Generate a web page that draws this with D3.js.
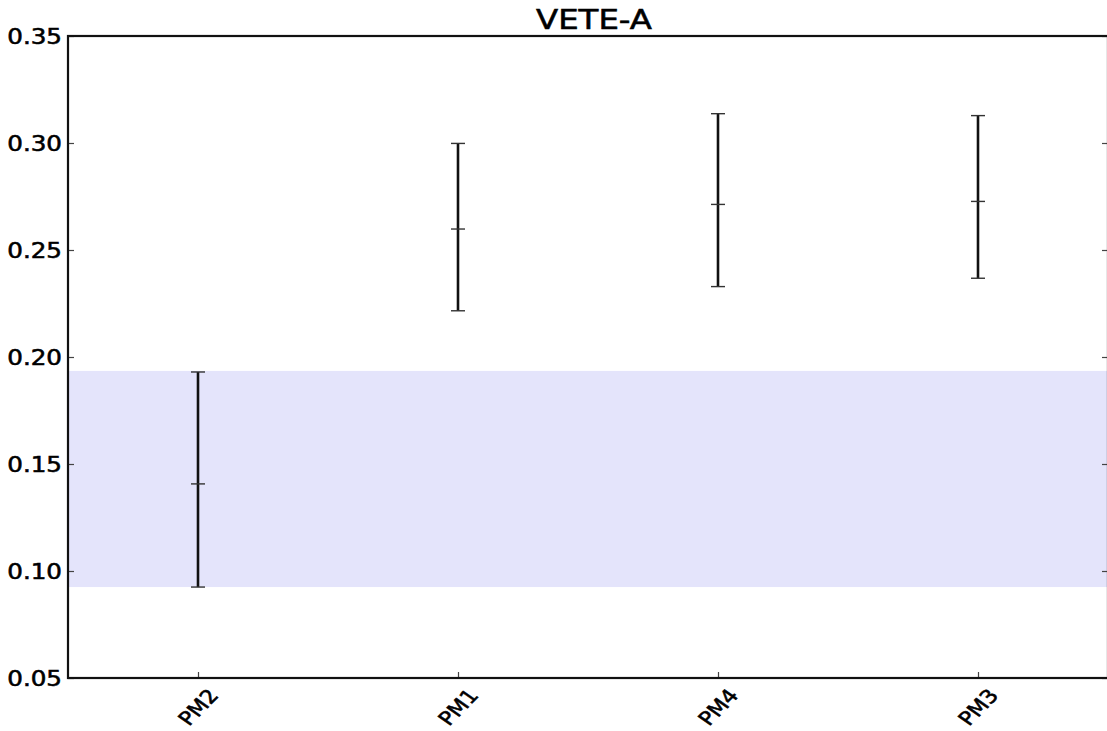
<!DOCTYPE html>
<html>
<head>
<meta charset="utf-8">
<script src="https://cdn.jsdelivr.net/npm/d3@7"></script>
<style>
  html, body { margin: 0; padding: 0; background: #fff; }
  svg { display: block; }
  text { stroke: #000; stroke-width: 0.55px; fill: #000; }
</style>
</head>
<body>
<svg id="chart" width="1107" height="731"></svg>
<script>
const title = "VETE-A";
const categories = ["PM2", "PM1", "PM4", "PM3"];
const means = [0.1407, 0.2598, 0.2713, 0.2727];
const lower = [0.0925, 0.2216, 0.2329, 0.2368];
const upper = [0.1930, 0.2998, 0.3137, 0.3128];
const band = [0.0925, 0.1935];
const yTicks = [0.05, 0.10, 0.15, 0.20, 0.25, 0.30, 0.35];
const yDomain = [0.05, 0.35];

const svg = d3.select("#chart");
const m = { left: 68, right: 1108, top: 36, bottom: 678 };
const SX = 1.2; // horizontal stretch of text as in the reference

const x = d3.scalePoint().domain(categories).range([m.left, m.right]).padding(0.5);
const y = d3.scaleLinear().domain(yDomain).range([m.bottom, m.top]);

// band
svg.append("rect")
  .attr("x", m.left).attr("width", m.right - m.left)
  .attr("y", y(band[1])).attr("height", y(band[0]) - y(band[1]))
  .attr("fill", "#e4e4fb");

// y axis left
const yAxisL = d3.axisLeft(y).tickValues(yTicks).tickFormat(d3.format(".2f")).tickSize(-6).tickPadding(0);
const gL = svg.append("g").attr("transform", `translate(${m.left},0)`).call(yAxisL);
gL.select(".domain").remove();
gL.selectAll(".tick line").attr("stroke", "#444").attr("stroke-width", 1.2);
gL.selectAll(".tick text")
  .attr("x", null)
  .attr("transform", `translate(-6,0) scale(${SX},1)`)
  .attr("font-family", "DejaVu Sans").attr("font-size", 20.5).attr("dy", "0.36em");

// y axis right ticks
const yAxisR = d3.axisRight(y).tickValues(yTicks).tickFormat("").tickSize(-6);
const gR = svg.append("g").attr("transform", `translate(${m.right},0)`).call(yAxisR);
gR.select(".domain").remove();
gR.selectAll(".tick line").attr("stroke", "#444").attr("stroke-width", 1.2);

// x axis ticks
const xAxis = d3.axisBottom(x).tickSize(-6).tickFormat("");
const gX = svg.append("g").attr("transform", `translate(0,${m.bottom})`).call(xAxis);
gX.select(".domain").remove();
gX.selectAll(".tick line").attr("stroke", "#444").attr("stroke-width", 1.2);

// x labels rotated
svg.append("g").selectAll("text").data(categories).join("text")
  .attr("transform", d => `translate(${x(d)},${m.bottom + 29}) scale(${SX},1) rotate(-50)`)
  .attr("text-anchor", "middle").attr("dy", "0.36em")
  .attr("font-family", "DejaVu Sans").attr("font-size", 19)
  .text(d => d);

// spines
svg.append("rect")
  .attr("x", m.left).attr("y", m.top)
  .attr("width", m.right - m.left).attr("height", m.bottom - m.top)
  .attr("fill", "none").attr("stroke", "#111").attr("stroke-width", 2.2);

// error bars
const eb = svg.append("g");
categories.forEach((c, i) => {
  const cx = x(c);
  eb.append("line").attr("x1", cx).attr("x2", cx)
    .attr("y1", y(lower[i])).attr("y2", y(upper[i]))
    .attr("stroke", "#111").attr("stroke-width", 2.6);
  [lower[i], means[i], upper[i]].forEach(v => {
    eb.append("line").attr("x1", cx - 7).attr("x2", cx + 7)
      .attr("y1", y(v)).attr("y2", y(v))
      .attr("stroke", "#333").attr("stroke-width", 1.4);
  });
});

// title
svg.append("text")
  .attr("transform", `translate(594,29) scale(${SX},1)`)
  .attr("text-anchor", "middle")
  .attr("font-family", "DejaVu Sans").attr("font-size", 27)
  .text(title);
</script>
</body>
</html>
